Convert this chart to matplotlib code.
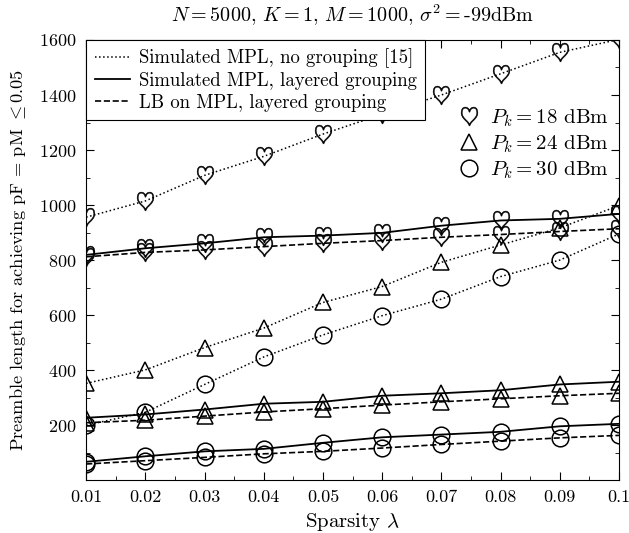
import numpy as np
import matplotlib
matplotlib.use("Agg")
import matplotlib.pyplot as plt
from matplotlib.lines import Line2D
from matplotlib.ticker import MultipleLocator

plt.rcParams['font.family'] = 'serif'
plt.rcParams['font.serif'] = ['cmr10', 'DejaVu Serif']
plt.rcParams['mathtext.fontset'] = 'cm'
plt.rcParams['axes.formatter.use_mathtext'] = True

sparsity = [0.01, 0.02, 0.03, 0.04, 0.05, 0.06, 0.07, 0.08, 0.09, 0.1]

# no grouping [15], dotted
nogroup_18 = [956, 1015, 1108, 1177, 1258, 1330, 1400, 1477, 1555, 1602]
nogroup_24 = [352, 401, 482, 553, 646, 704, 792, 855, 917, 998]
nogroup_30 = [200, 247, 348, 448, 528, 598, 658, 740, 800, 895]

# simulated MPL, layered grouping, solid
layered_18 = [819, 843, 861, 883, 889, 899, 925, 944, 950, 968]
layered_24 = [227, 239, 257, 278, 285, 307, 316, 327, 348, 358]
layered_30 = [67, 87, 105, 114, 136, 156, 166, 176, 196, 205]

# LB on MPL, layered grouping, dashed
lb_18 = [812, 828, 837, 849, 861, 871, 883, 893, 904, 914]
lb_24 = [209, 218, 233, 248, 260, 273, 285, 296, 307, 316]
lb_30 = [59, 71, 83, 96, 105, 117, 130, 142, 154, 163]

yticks = [200, 400, 600, 800, 1000, 1200, 1400, 1600]
xticklabels = ['0.01', '0.02', '0.03', '0.04', '0.05', '0.06', '0.07', '0.08', '0.09', '0.1']

fig = plt.figure(figsize=(6.29, 5.33), dpi=100)
ax = fig.add_axes([0.137, 0.099, 0.847, 0.826])

heart = dict(marker=r'$\heartsuit$', markersize=13.5, markeredgewidth=0.4)
tri = dict(marker='^', markersize=11, markerfacecolor='none', markeredgewidth=1.1)
circ = dict(marker='o', markersize=12, markerfacecolor='none', markeredgewidth=1.1)

styles = [(':', 1.1), ('-', 1.3), ('--', 1.2)]
groups = [(nogroup_18, nogroup_24, nogroup_30),
          (layered_18, layered_24, layered_30),
          (lb_18, lb_24, lb_30)]

for (ls, lw), (s18, s24, s30) in zip(styles, groups):
    ax.plot(sparsity, s18, ls, color='k', lw=lw, **heart)
    ax.plot(sparsity, s24, ls, color='k', lw=lw, **tri)
    ax.plot(sparsity, s30, ls, color='k', lw=lw, **circ)

ax.set_xlim(0.01, 0.1)
ax.set_ylim(0, 1600)
ax.set_xticks(sparsity)
ax.set_xticklabels(xticklabels)
ax.set_yticks(yticks)
ax.xaxis.set_minor_locator(MultipleLocator(0.005))
ax.yaxis.set_minor_locator(MultipleLocator(100))
ax.tick_params(which='both', direction='in', top=True, right=True, labelsize=13)
ax.tick_params(which='major', length=6, pad=7)
ax.tick_params(which='minor', length=3)

ax.set_xlabel(r'Sparsity $\lambda$', fontsize=15, labelpad=4)
ax.set_ylabel(r'Preamble length for achieving pF = pM $\leq$0.05', fontsize=13.2, labelpad=8)
ax.set_title(r'$N = 5000$, $K = 1$, $M = 1000$, $\sigma^2 = $-99dBm', fontsize=14.5, pad=13)

line_handles = [Line2D([], [], ls=':', color='k', lw=1.1),
                Line2D([], [], ls='-', color='k', lw=1.3),
                Line2D([], [], ls='--', color='k', lw=1.2)]
leg1 = ax.legend(line_handles,
                 ['Simulated MPL, no grouping [15]',
                  'Simulated MPL, layered grouping',
                  'LB on MPL, layered grouping'],
                 loc='upper left', fontsize=13.5, frameon=True, fancybox=False,
                 edgecolor='k', framealpha=1, borderaxespad=0.0,
                 handlelength=1.9, handletextpad=0.45, labelspacing=0.2, borderpad=0.45)
leg1.get_frame().set_linewidth(0.8)
ax.add_artist(leg1)

marker_handles = [Line2D([], [], ls='none', color='k', **heart),
                  Line2D([], [], ls='none', color='k', **tri),
                  Line2D([], [], ls='none', color='k', **circ)]
ax.legend(marker_handles,
          [r'$P_k = 18$ dBm', r'$P_k = 24$ dBm', r'$P_k = 30$ dBm'],
          loc='upper right', bbox_to_anchor=(1.0, 0.87), fontsize=15,
          frameon=False, handlelength=1.0, handletextpad=0.5, labelspacing=0.2,
          borderaxespad=0.1)

fig.savefig('out.png', dpi=100)
